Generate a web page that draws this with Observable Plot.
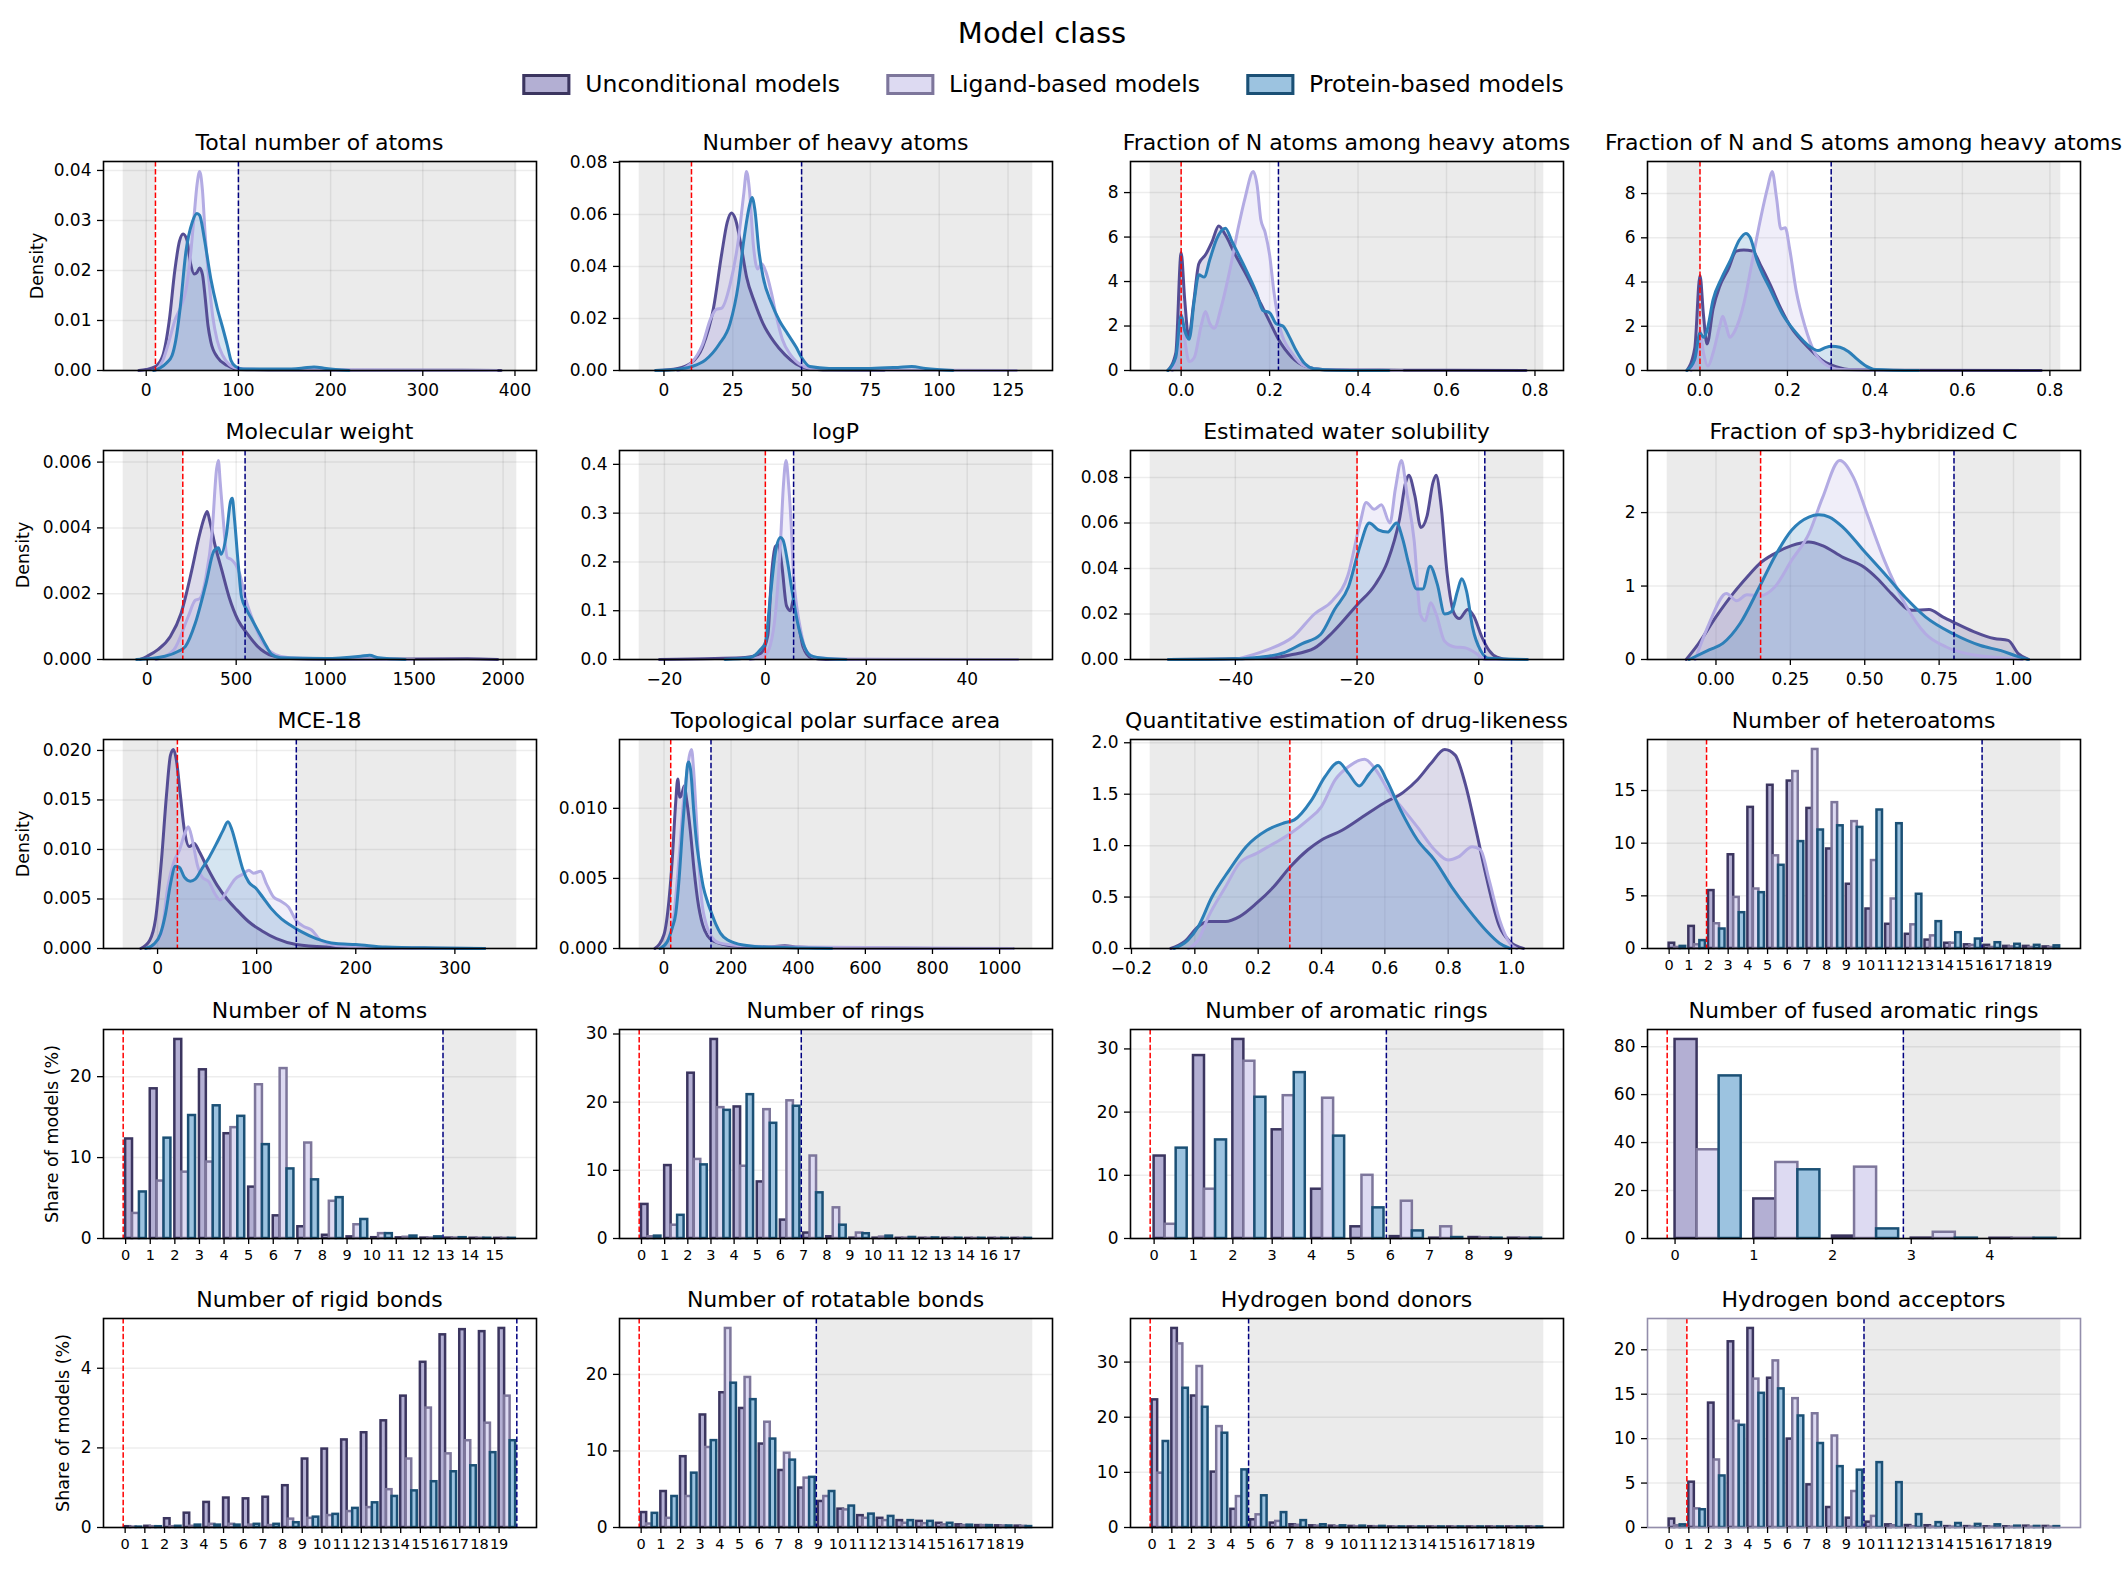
<!DOCTYPE html>
<html><head><meta charset="utf-8">
<script src="https://cdn.jsdelivr.net/npm/d3@7"></script>
<script src="https://cdn.jsdelivr.net/npm/@observablehq/plot@0.6"></script>
<style>
body{margin:0;background:#fff;font-family:"DejaVu Sans",sans-serif;}
#fig{position:relative;width:2127px;height:1569px;overflow:hidden;background:#fff;color:#000;}
.abs{position:absolute;white-space:nowrap;}
.ptitle{font-size:22px;line-height:28px;transform:translateX(-50%);}
.ylab{font-size:17.5px;transform:translate(-50%,-50%) rotate(-90deg);}
#legend{display:flex;align-items:center;font-size:23.5px;transform:translate(-50%,-50%);}
.item{display:flex;align-items:center;margin:0 23px;}
.patch{width:48px;height:21px;box-sizing:border-box;border:3px solid;margin-right:15px;}
</style></head><body><div id="fig"></div>
<script>
// ---------------- series / colours ----------------
const seriesNames = ["Unconditional models", "Ligand-based models", "Protein-based models"];
const lineColors = ["#554d94", "#b3abe3", "#2c7fb8"];
const barFills = ["#b3afd3", "#dddaf2", "#9cc3e0"];
const barEdges = ["#3b355f", "#7d769b", "#1b5075"];

// ---------------- KDE curves: [x, density] ----------------
const totalAtomsUncond = [[-8,0],[0,0.0002],[10,0.0008],[18,0.003],[25,0.010],[31,0.02],[36,0.0258],[40,0.0273],[44,0.0262],[48,0.0215],[52,0.0193],[55,0.0196],[58,0.0205],[61,0.0192],[64,0.0145],[67,0.009],[70,0.0058],[77,0.0027],[88,0.001],[100,0.0002],[150,0.0001],[300,0.00005],[385,0]];
const totalAtomsLigand = [[10,0],[18,0.002],[25,0.006],[31,0.01],[37,0.0125],[43,0.016],[48,0.023],[52,0.031],[55,0.037],[58,0.0398],[61,0.036],[64,0.027],[68,0.018],[72,0.011],[77,0.006],[83,0.003],[90,0.0012],[100,0.0004],[130,0.0002],[250,0.0001],[380,0]];
const totalAtomsProtein = [[8,0],[15,0.0005],[22,0.0015],[28,0.003],[32,0.006],[37,0.0128],[43,0.0237],[50,0.0297],[55,0.0314],[58,0.031],[63,0.0264],[70,0.0184],[77,0.0125],[83,0.0085],[88,0.005],[92,0.002],[97,0.0008],[105,0.0003],[150,0.0003],[170,0.0005],[182,0.0007],[195,0.0004],[220,0]];

const heavyAtomsUncond = [[-3,0],[5,0.0008],[10,0.003],[14,0.009],[18,0.024],[21,0.045],[23,0.057],[24.5,0.0605],[26,0.058],[28,0.048],[30,0.036],[33,0.026],[36,0.018],[40,0.011],[44,0.006],[48,0.0025],[52,0.0008],[60,0.0002],[80,0]];
const heavyAtomsLigand = [[5,0],[10,0.003],[14,0.01],[17,0.02],[19,0.0235],[21,0.024],[24,0.033],[27,0.05],[29,0.068],[30,0.0765],[31,0.07],[32.5,0.048],[34,0.039],[35.5,0.041],[37,0.038],[39,0.03],[41,0.02],[43,0.012],[46,0.006],[50,0.002],[55,0.0005],[80,0.0002],[128,0]];
const heavyAtomsProtein = [[-3,0],[5,0.0005],[10,0.0015],[15,0.004],[20,0.01],[24,0.018],[27,0.033],[29,0.05],[31,0.063],[32,0.0665],[33,0.062],[34.5,0.046],[36,0.036],[39,0.026],[42,0.019],[45,0.014],[48,0.009],[50,0.005],[53,0.0015],[60,0.0008],[75,0.0008],[85,0.0012],[90,0.0015],[95,0.0008],[105,0]];

const fracNUncond = [[-0.03,0],[-0.012,0.8],[0.0,5.3],[0.008,3.2],[0.017,1.5],[0.028,3.0],[0.04,4.8],[0.055,5.2],[0.07,5.8],[0.085,6.5],[0.1,6.1],[0.12,5.3],[0.15,4.2],[0.18,3.0],[0.2,2.2],[0.22,1.4],[0.25,0.6],[0.28,0.2],[0.32,0.05],[0.45,0.02],[0.6,0.01],[0.78,0]];
const fracNLigand = [[-0.02,0],[-0.006,1.2],[0.0,2.5],[0.008,1.4],[0.018,0.4],[0.03,0.6],[0.045,2.0],[0.055,2.65],[0.065,2.1],[0.075,1.9],[0.09,2.8],[0.11,4.5],[0.13,6.5],[0.145,7.8],[0.163,8.95],[0.172,8.3],[0.18,6.8],[0.19,6.2],[0.2,5.2],[0.21,3.5],[0.225,1.8],[0.25,0.8],[0.28,0.2],[0.33,0.02],[0.5,0]];
const fracNProtein = [[-0.03,0],[-0.012,0.6],[0.0,2.5],[0.008,1.8],[0.018,1.4],[0.03,3.2],[0.04,4.3],[0.052,4.2],[0.065,5.0],[0.08,5.9],[0.1,6.4],[0.115,5.8],[0.14,4.8],[0.17,3.5],[0.185,2.7],[0.2,2.6],[0.215,2.1],[0.23,2.0],[0.245,1.5],[0.26,0.9],[0.28,0.3],[0.3,0.08],[0.35,0.01],[0.47,0]];

const fracNSUncond = [[-0.03,0],[-0.012,1.0],[0.0,4.3],[0.008,2.5],[0.016,1.2],[0.03,2.8],[0.045,3.8],[0.065,4.6],[0.083,5.4],[0.1,5.45],[0.12,5.4],[0.14,4.7],[0.16,3.9],[0.185,2.8],[0.21,1.9],[0.235,1.3],[0.26,0.8],[0.28,0.45],[0.3,0.25],[0.34,0.05],[0.45,0.01],[0.78,0]];
const fracNSLigand = [[-0.02,0],[-0.006,0.8],[0.0,1.8],[0.008,0.8],[0.018,0.2],[0.03,0.8],[0.045,2.0],[0.052,2.45],[0.06,2.0],[0.068,1.5],[0.08,1.8],[0.1,3.0],[0.12,5.0],[0.14,7.0],[0.155,8.3],[0.165,9.0],[0.175,7.8],[0.185,6.4],[0.195,6.45],[0.205,5.5],[0.22,3.6],[0.24,2.0],[0.26,0.9],[0.285,0.3],[0.32,0.05],[0.5,0]];
const fracNSProtein = [[-0.03,0],[-0.012,0.5],[0.0,1.7],[0.008,1.5],[0.016,1.8],[0.03,3.2],[0.05,4.2],[0.07,5.0],[0.09,5.9],[0.105,6.2],[0.115,6.0],[0.13,5.0],[0.16,3.7],[0.19,2.5],[0.22,1.7],[0.25,1.1],[0.27,0.9],[0.285,1.02],[0.3,1.1],[0.32,1.05],[0.34,0.85],[0.36,0.5],[0.38,0.2],[0.4,0.05],[0.5,0]];

const mwUncond = [[-40,0],[0,0.0001],[60,0.0003],[130,0.0007],[190,0.0014],[250,0.0027],[290,0.0037],[320,0.0043],[337,0.0045],[352,0.0042],[380,0.0035],[420,0.0027],[460,0.0019],[510,0.0012],[560,0.0008],[620,0.0004],[700,0.00012],[800,0.00003],[1000,0.00001],[1800,0.00002],[1970,0]];
const mwLigand = [[50,0],[150,0.0003],[230,0.0013],[270,0.0018],[295,0.00185],[330,0.0025],[365,0.0039],[390,0.0058],[400,0.00605],[410,0.0054],[425,0.0044],[450,0.0031],[470,0.00305],[495,0.0029],[520,0.0026],[550,0.0019],[600,0.0011],[650,0.0005],[720,0.00015],[800,0.00005],[1000,0.00002],[1500,0]];
const mwProtein = [[-60,0],[100,0.0001],[175,0.00025],[215,0.0004],[270,0.0011],[330,0.0023],[375,0.0033],[400,0.0034],[415,0.0032],[445,0.0038],[468,0.0048],[478,0.0049],[490,0.0043],[510,0.003],[530,0.0019],[560,0.0015],[590,0.0012],[630,0.0008],[670,0.0004],[700,0.00015],[750,0.00005],[1000,0.00003],[1200,0.0001],[1250,0.00013],[1300,0.00005],[1450,0]];

const logPUncond = [[-21,0],[-10,0.002],[-4,0.004],[-1,0.012],[0.5,0.05],[1.2,0.17],[2,0.232],[2.6,0.235],[3.3,0.19],[4.2,0.11],[5,0.1],[5.6,0.125],[6,0.11],[6.8,0.06],[7.5,0.025],[9,0.004],[12,0],[20,0]];
const logPLigand = [[-3,0],[0,0.01],[1,0.03],[2,0.094],[3,0.24],[3.6,0.36],[4.1,0.408],[4.6,0.36],[5.1,0.28],[5.6,0.17],[6.2,0.11],[7,0.06],[8,0.02],[10,0.004],[15,0.001],[30,0.0005],[50,0]];
const logPProtein = [[-8,0],[-3,0.004],[-1,0.02],[0,0.035],[1,0.13],[2,0.22],[3,0.25],[3.5,0.245],[4.4,0.2],[5.3,0.14],[6.4,0.075],[7.5,0.033],[9,0.008],[12,0.002],[16,0]];

const solubilityUncond = [[-51,0],[-35,0.0005],[-31,0.002],[-27,0.005],[-24,0.012],[-20,0.024],[-17,0.033],[-15,0.043],[-13,0.062],[-12,0.078],[-11.5,0.081],[-10.5,0.072],[-9.5,0.058],[-8.5,0.063],[-7.5,0.078],[-7,0.081],[-6.2,0.068],[-5.2,0.038],[-4,0.02],[-3.2,0.018],[-1.8,0.022],[-0.8,0.019],[0.5,0.01],[1.7,0.004],[3,0.001],[5,0],[7,0]];
const solubilityLigand = [[-40,0],[-35,0.004],[-30.5,0.01],[-27,0.02],[-24,0.026],[-21.5,0.037],[-19.5,0.06],[-18.5,0.069],[-17.2,0.066],[-16,0.068],[-14.6,0.06],[-13.7,0.075],[-12.7,0.0875],[-11.8,0.073],[-10.6,0.052],[-9.6,0.02],[-8.8,0.017],[-7.9,0.025],[-7,0.02],[-5.6,0.008],[-3.9,0.0055],[-2.3,0.0052],[-0.6,0.003],[1.1,0],[8,0]];
const solubilityProtein = [[-51,0],[-40,0.0003],[-36,0.001],[-32,0.003],[-29,0.007],[-26,0.011],[-23.7,0.022],[-21.4,0.032],[-19.5,0.05],[-18,0.06],[-16.5,0.057],[-15,0.056],[-13.5,0.06],[-12.5,0.053],[-11.5,0.042],[-10.2,0.031],[-9.2,0.031],[-8,0.041],[-6.8,0.033],[-5.6,0.02],[-4.5,0.021],[-3.5,0.03],[-2.8,0.0355],[-2,0.03],[-1,0.014],[0.3,0.004],[1.7,0.0005],[8,0]];

const sp3Uncond = [[-0.1,0],[-0.058,0.22],[0.0,0.58],[0.058,0.9],[0.104,1.12],[0.145,1.3],[0.196,1.44],[0.254,1.55],[0.312,1.6],[0.358,1.55],[0.427,1.39],[0.497,1.26],[0.543,1.1],[0.589,0.9],[0.658,0.67],[0.716,0.68],[0.762,0.58],[0.797,0.51],[0.866,0.38],[0.935,0.285],[0.982,0.26],[1.016,0.08],[1.05,0]];
const sp3Ligand = [[-0.07,0],[-0.023,0.49],[0.035,0.9],[0.069,0.8],[0.104,0.88],[0.15,0.87],[0.196,0.98],[0.254,1.35],[0.312,1.71],[0.358,2.2],[0.416,2.71],[0.462,2.48],[0.508,1.98],[0.566,1.35],[0.635,0.76],[0.704,0.35],[0.774,0.17],[0.843,0.08],[0.935,0.03],[1.03,0]];
const sp3Protein = [[-0.09,0],[-0.023,0.13],[0.023,0.22],[0.081,0.49],[0.145,0.98],[0.196,1.39],[0.254,1.76],[0.312,1.94],[0.346,1.97],[0.381,1.94],[0.427,1.8],[0.497,1.48],[0.566,1.17],[0.635,0.85],[0.704,0.58],[0.797,0.35],[0.889,0.19],[0.958,0.12],[1.016,0.04],[1.05,0]];

const mce18Uncond = [[-17,0],[-8,0.0008],[-2,0.003],[4,0.009],[9,0.0155],[13,0.0195],[16,0.0201],[19,0.019],[23,0.0155],[27,0.012],[32,0.0103],[37,0.0106],[42,0.0098],[50,0.0082],[60,0.0064],[70,0.005],[80,0.0039],[92,0.0027],[105,0.0018],[120,0.001],[140,0.0004],[170,0.00015],[220,0.00005],[330,0]];
const mce18Ligand = [[-8,0],[0,0.0008],[4,0.0015],[10,0.006],[17,0.0089],[22,0.0099],[27,0.0115],[31,0.0123],[35,0.011],[40,0.0085],[45,0.0072],[52,0.0067],[58,0.0055],[63,0.0049],[70,0.0058],[78,0.007],[86,0.0075],[92,0.0079],[97,0.0076],[104,0.0078],[110,0.0065],[117,0.0052],[124,0.0048],[132,0.0042],[140,0.0028],[148,0.0022],[155,0.0019],[165,0.0008],[180,0.0003],[220,0.0001],[300,0]];
const mce18Protein = [[-12,0],[-3,0.0005],[3,0.0015],[8,0.0035],[13,0.0065],[18,0.0083],[22,0.0082],[27,0.0072],[33,0.0068],[38,0.007],[45,0.0081],[52,0.0092],[60,0.0107],[66,0.0119],[71,0.0128],[75,0.012],[80,0.0102],[86,0.008],[92,0.0067],[99,0.0061],[106,0.0052],[115,0.004],[125,0.003],[135,0.0023],[145,0.0017],[160,0.001],[180,0.0005],[200,0.0004],[230,0.00015],[280,0.00005],[330,0]];

const tpsaUncond = [[-27,0],[0,0.001],[15,0.0035],[25,0.0065],[35,0.0105],[41,0.0121],[47,0.0108],[53,0.011],[60,0.0116],[68,0.0105],[78,0.0085],[90,0.0055],[100,0.0035],[115,0.0017],[130,0.0009],[150,0.0005],[200,0.0002],[300,0.0001],[360,0.0002],[400,0.0001],[500,0.00003],[1040,0]];
const tpsaLigand = [[-8,0],[15,0.0008],[30,0.0025],[45,0.0065],[58,0.0105],[68,0.0125],[76,0.0138],[82,0.0142],[88,0.0128],[96,0.0095],[104,0.006],[112,0.0035],[125,0.0018],[140,0.0009],[165,0.0004],[230,0.0002],[400,0.0001],[1040,0]];
const tpsaProtein = [[-12,0],[10,0.0005],[25,0.0015],[35,0.0025],[45,0.005],[55,0.0085],[63,0.011],[70,0.0131],[74,0.0133],[80,0.0126],[88,0.01],[96,0.0078],[106,0.006],[117,0.0044],[130,0.0033],[142,0.0025],[155,0.0017],[168,0.0011],[190,0.0006],[210,0.0004],[270,0.00015],[380,0.00005],[500,0]];

const qedUncond = [[-0.076,0],[-0.032,0.068],[0.011,0.214],[0.043,0.262],[0.097,0.262],[0.141,0.31],[0.195,0.44],[0.249,0.6],[0.303,0.8],[0.357,0.96],[0.4,1.055],[0.465,1.15],[0.53,1.28],[0.595,1.41],[0.659,1.52],[0.703,1.64],[0.746,1.8],[0.789,1.935],[0.822,1.88],[0.854,1.6],[0.886,1.18],[0.918,0.73],[0.962,0.214],[0.995,0.068],[1.038,0]];
const qedLigand = [[-0.02,0],[0.011,0.084],[0.043,0.31],[0.097,0.6],[0.141,0.83],[0.195,0.925],[0.249,1.02],[0.303,1.12],[0.357,1.25],[0.4,1.38],[0.443,1.64],[0.486,1.77],[0.536,1.84],[0.573,1.73],[0.616,1.51],[0.659,1.35],[0.703,1.18],[0.757,0.96],[0.8,0.86],[0.832,0.89],[0.876,0.99],[0.902,0.96],[0.929,0.67],[0.962,0.28],[0.995,0.05],[1.016,0]];
const qedProtein = [[-0.066,0],[-0.022,0.08],[0.011,0.214],[0.054,0.5],[0.108,0.76],[0.162,0.99],[0.227,1.15],[0.281,1.22],[0.314,1.25],[0.368,1.44],[0.411,1.67],[0.454,1.81],[0.486,1.7],[0.519,1.58],[0.551,1.7],[0.578,1.78],[0.605,1.64],[0.649,1.35],[0.703,1.055],[0.757,0.86],[0.811,0.6],[0.865,0.375],[0.918,0.18],[0.962,0.052],[0.995,0]];

// ---------------- categorical tick labels ----------------
const labels0to19 = ["0","1","2","3","4","5","6","7","8","9","10","11","12","13","14","15","16","17","18","19"];
const labels0to15 = ["0","1","2","3","4","5","6","7","8","9","10","11","12","13","14","15"];
const ringLabels = ["0","1","2","3","4","5","6","7","8","9","10","11","12","13","14","16","17"];
const labels0to9 = ["0","1","2","3","4","5","6","7","8","9"];
const labels0to4 = ["0","1","2","3","4"];

// ---------------- bar shares (% of models) ----------------
const heteroUncond = [0.5,2.1,5.5,8.9,13.4,15.5,15.9,13.3,9.45,6.1,3.75,2.3,1.35,0.8,0.5,0.35,0.3,0.2,0.2,0.15];
const heteroLigand = [0.1,0.35,2.35,4.85,5.65,8.8,16.8,18.9,13.85,12.05,8.35,4.7,2.25,1.2,0.5,0.3,0.1,0.15,0.1,0.1];
const heteroProtein = [0.2,0.75,1.85,3.4,5.3,7.9,10.15,11.25,11.65,11.5,13.15,11.85,5.15,2.55,1.5,0.9,0.55,0.4,0.3,0.25];

const nAtomsUncond = [12.3,18.5,24.6,20.85,12.95,6.35,2.8,1.45,0.4,0.2,0.1,0.08,0.05,0.05,0.03,0.02];
const nAtomsLigand = [3.1,7.1,8.2,9.45,13.7,19.0,21.0,11.8,4.6,1.7,0.6,0.15,0.05,0.05,0.03,0.02];
const nAtomsProtein = [5.75,12.4,15.2,16.4,15.1,11.6,8.6,7.25,5.05,2.35,0.6,0.3,0.2,0.1,0.03,0.02];

const ringsUncond = [5.0,10.7,24.25,29.2,19.3,8.3,2.7,0.8,0.25,0.05,0.05,0.03,0.03,0.03,0.02,0.02,0.02];
const ringsLigand = [0.25,1.95,11.6,19.2,10.6,18.9,20.2,12.1,4.5,0.8,0.2,0.05,0.04,0.03,0.02,0.02,0.02];
const ringsProtein = [0.35,3.4,10.8,18.8,21.1,16.9,19.4,6.7,1.95,0.7,0.35,0.15,0.08,0.04,0.03,0.02,0.02];

const aromUncond = [13.05,28.95,31.5,17.2,7.8,1.85,0.3,0.05,0.15,0.05];
const aromLigand = [2.25,7.8,28.05,22.6,22.2,10.0,5.9,1.85,0.1,0.05];
const aromProtein = [14.3,15.6,22.35,26.25,16.2,4.85,1.2,0.15,0.05,0.05];

const fusedUncond = [83.0,16.5,1.0,0.15,0.1];
const fusedLigand = [37.0,31.7,29.75,2.6,0.1];
const fusedProtein = [67.8,28.65,4.0,0.15,0.1];

const rigidUncond = [0.02,0.03,0.22,0.36,0.63,0.74,0.72,0.76,1.05,1.72,1.97,2.2,2.38,2.68,3.3,4.15,4.84,4.97,4.92,5.0];
const rigidLigand = [0.01,0.02,0.02,0.03,0.08,0.08,0.06,0.05,0.21,0.23,0.3,0.4,0.5,0.95,1.72,3.0,1.85,2.18,2.62,3.3];
const rigidProtein = [0.01,0.02,0.03,0.06,0.06,0.06,0.08,0.08,0.12,0.26,0.33,0.48,0.62,0.78,0.92,1.15,1.4,1.55,1.88,2.18];

const rotUncond = [1.95,4.7,9.25,14.7,17.6,15.55,10.9,7.45,5.15,3.4,2.4,1.55,1.2,0.9,0.8,0.55,0.35,0.25,0.22,0.18];
const rotLigand = [0.45,1.2,4.05,10.45,26.0,19.6,13.75,9.7,6.45,4.05,2.3,1.2,0.9,0.55,0.5,0.35,0.25,0.25,0.2,0.15];
const rotProtein = [1.85,4.05,7.1,11.35,18.85,16.7,11.55,8.8,6.55,4.7,2.8,1.75,1.45,0.9,0.8,0.55,0.3,0.25,0.2,0.12];

const donorsUncond = [23.15,36.1,23.85,10.05,3.3,1.4,0.8,0.5,0.3,0.25,0.2,0.15,0.1,0.1,0.1,0.1,0.1,0.1,0.1,0.1];
const donorsLigand = [9.85,33.3,29.2,18.3,5.6,2.3,1.1,0.4,0.25,0.15,0.12,0.12,0.08,0.08,0.08,0.08,0.08,0.08,0.08,0.08];
const donorsProtein = [15.6,25.25,21.8,17.1,10.45,5.75,2.7,1.25,0.5,0.3,0.25,0.2,0.1,0.1,0.1,0.1,0.1,0.1,0.1,0.1];

const acceptorsUncond = [0.95,5.1,14.0,20.9,22.4,16.8,9.95,4.8,2.25,1.05,0.6,0.3,0.22,0.2,0.1,0.1,0.08,0.08,0.15,0.12];
const acceptorsLigand = [0.2,2.1,7.6,11.95,16.7,18.75,14.5,12.8,10.3,4.05,1.25,0.2,0.08,0.05,0.05,0.05,0.05,0.05,0.05,0.05];
const acceptorsProtein = [0.3,2.0,5.8,11.5,15.1,15.6,12.55,9.45,6.85,6.45,7.3,5.05,1.45,0.55,0.45,0.35,0.3,0.15,0.12,0.1];

// ---------------- panel settings ----------------
const panels = [
 {title:"Total number of atoms", kind:"kde", series:[totalAtomsUncond,totalAtomsLigand,totalAtomsProtein], span:[-25,402], lo:10, hi:100, xTicks:[0,100,200,300,400], xFmt:"d", yTicks:[0,0.01,0.02,0.03,0.04], yFmt:".2f"},
 {title:"Number of heavy atoms", kind:"kde", series:[heavyAtomsUncond,heavyAtomsLigand,heavyAtomsProtein], span:[-9,134], lo:10, hi:50, xTicks:[0,25,50,75,100,125], xFmt:"d", yTicks:[0,0.02,0.04,0.06,0.08], yFmt:".2f"},
 {title:"Fraction of N atoms among heavy atoms", kind:"kde", series:[fracNUncond,fracNLigand,fracNProtein], span:[-0.07,0.82], lo:0, hi:0.22, xTicks:[0,0.2,0.4,0.6,0.8], xFmt:".1f", yTicks:[0,2,4,6,8], yFmt:"d"},
 {title:"Fraction of N and S atoms among heavy atoms", kind:"kde", series:[fracNSUncond,fracNSLigand,fracNSProtein], span:[-0.075,0.825], lo:0, hi:0.3, xTicks:[0,0.2,0.4,0.6,0.8], xFmt:".1f", yTicks:[0,2,4,6,8], yFmt:"d"},
 {title:"Molecular weight", kind:"kde", series:[mwUncond,mwLigand,mwProtein], span:[-135,2077], lo:200, hi:550, xTicks:[0,500,1000,1500,2000], xFmt:"d", yTicks:[0,0.002,0.004,0.006], yFmt:".3f"},
 {title:"logP", kind:"kde", series:[logPUncond,logPLigand,logPProtein], span:[-25,53], lo:0, hi:5.6, xTicks:[-20,0,20,40], xFmt:"d", yTicks:[0,0.1,0.2,0.3,0.4], yFmt:".1f"},
 {title:"Estimated water solubility", kind:"kde", series:[solubilityUncond,solubilityLigand,solubilityProtein], span:[-54,10.7], lo:-20, hi:1, xTicks:[-40,-20,0], xFmt:"d", yTicks:[0,0.02,0.04,0.06,0.08], yFmt:".2f"},
 {title:"Fraction of sp3-hybridized C", kind:"kde", series:[sp3Uncond,sp3Ligand,sp3Protein], span:[-0.164,1.159], lo:0.15, hi:0.8, xTicks:[0,0.25,0.5,0.75,1], xFmt:".2f", yTicks:[0,1,2], yFmt:"d"},
 {title:"MCE-18", kind:"kde", series:[mce18Uncond,mce18Ligand,mce18Protein], span:[-34.7,362.5], lo:20, hi:140, xTicks:[0,100,200,300], xFmt:"d", yTicks:[0,0.005,0.01,0.015,0.02], yFmt:".3f"},
 {title:"Topological polar surface area", kind:"kde", series:[tpsaUncond,tpsaLigand,tpsaProtein], span:[-74,1099], lo:20, hi:140, xTicks:[0,200,400,600,800,1000], xFmt:"d", yTicks:[0,0.005,0.01], yFmt:".3f"},
 {title:"Quantitative estimation of drug-likeness", kind:"kde", series:[qedUncond,qedLigand,qedProtein], span:[-0.141,1.102], lo:0.3, hi:1.0, xTicks:[-0.2,0,0.2,0.4,0.6,0.8,1.0], xFmt:".1f", yTicks:[0,0.5,1,1.5,2], yFmt:".1f"},
 {title:"Number of heteroatoms", kind:"bar", labels:labels0to19, series:[heteroUncond,heteroLigand,heteroProtein], lo:2, hi:16, yTicks:[0,5,10,15]},
 {title:"Number of N atoms", kind:"bar", labels:labels0to15, series:[nAtomsUncond,nAtomsLigand,nAtomsProtein], lo:0, hi:13, yTicks:[0,10,20]},
 {title:"Number of rings", kind:"bar", labels:ringLabels, series:[ringsUncond,ringsLigand,ringsProtein], lo:0, hi:7, yTicks:[0,10,20,30]},
 {title:"Number of aromatic rings", kind:"bar", labels:labels0to9, series:[aromUncond,aromLigand,aromProtein], lo:0, hi:6, yTicks:[0,10,20,30]},
 {title:"Number of fused aromatic rings", kind:"bar", labels:labels0to4, series:[fusedUncond,fusedLigand,fusedProtein], lo:0, hi:3, yTicks:[0,20,40,60,80]},
 {title:"Number of rigid bonds", kind:"bar", labels:labels0to19, series:[rigidUncond,rigidLigand,rigidProtein], lo:0, hi:20, yTicks:[0,2,4]},
 {title:"Number of rotatable bonds", kind:"bar", labels:labels0to19, series:[rotUncond,rotLigand,rotProtein], lo:0, hi:9, yTicks:[0,10,20]},
 {title:"Hydrogen bond donors", kind:"bar", labels:labels0to19, series:[donorsUncond,donorsLigand,donorsProtein], lo:0, hi:5, yTicks:[0,10,20,30]},
 {title:"Hydrogen bond acceptors", kind:"bar", labels:labels0to19, series:[acceptorsUncond,acceptorsLigand,acceptorsProtein], lo:1, hi:10, yTicks:[0,5,10,15,20], frameColor:"#938eab"}
];
const rowYLabels = ["Density","Density","Density","Share of models (%)","Share of models (%)"];

// ---------------- layout ----------------
const colLeft = [103, 619, 1130, 1647];
const rowTop = [161, 450, 739, 1029, 1318];
const AW = 433, AH = 209;
const ML = 110, MR = 14, MT = 12, MB = 50;
const yLabelX = [37, 23, 23, 52, 63];
const GRAY = "#ebebeb";

const fig = document.getElementById("fig");
function addDiv(cls, css, html) {
  const d = document.createElement("div");
  d.className = "abs " + cls;
  Object.assign(d.style, css);
  d.innerHTML = html;
  fig.appendChild(d);
  return d;
}

function grids(yTicks, xTicks) {
  const m = [];
  if (xTicks) m.push(Plot.gridX(xTicks, {stroke: "#000", strokeOpacity: 0.07, strokeWidth: 1.5}));
  m.push(Plot.gridY(yTicks, {stroke: "#000", strokeOpacity: 0.07, strokeWidth: 1.5}));
  return m;
}

function kdePanel(p) {
  const [g0, g1] = p.span;
  const pad = 0.05 * (g1 - g0);
  const ymax = 1.05 * d3.max(p.series.flat(), d => d[1]);
  const grays = [[g0, p.lo], [p.hi, g1]].filter(d => d[1] > d[0]);
  const marks = [
    Plot.rect(grays, {x1: d => d[0], x2: d => d[1], y1: () => 0, y2: () => ymax, fill: GRAY}),
    ...grids(p.yTicks, p.xTicks)
  ];
  p.series.forEach((pts, k) => {
    marks.push(Plot.areaY(pts, {x: d => d[0], y: d => d[1], fill: lineColors[k], fillOpacity: 0.2, curve: "monotone-x"}));
  });
  p.series.forEach((pts, k) => {
    marks.push(Plot.line(pts, {x: d => d[0], y: d => d[1], stroke: lineColors[k], strokeWidth: 3, curve: "monotone-x", strokeLinejoin: "round"}));
  });
  marks.push(Plot.ruleX([p.lo], {stroke: "#ff0000", strokeWidth: 1.5, strokeDasharray: "5.5,2.4"}));
  marks.push(Plot.ruleX([p.hi], {stroke: "#000080", strokeWidth: 1.5, strokeDasharray: "5.5,2.4"}));
  marks.push(Plot.frame({stroke: p.frameColor || "#000", strokeWidth: 1.6}));
  marks.push(Plot.axisX(p.xTicks, {tickFormat: d3.format(p.xFmt), tickSize: 6, tickPadding: 7, fontSize: 17, label: null, strokeWidth: 1.3}));
  marks.push(Plot.axisY(p.yTicks, {tickFormat: d3.format(p.yFmt), tickSize: 6, tickPadding: 6, fontSize: 17, label: null, strokeWidth: 1.3}));
  return {x: {domain: [g0 - pad, g1 + pad]}, y: {domain: [0, ymax]}, marks};
}

function barPanel(p) {
  const n = p.labels.length;
  const g0 = -0.1, g1 = n - 1 + 0.9;
  const pad = 0.05 * (g1 - g0);
  const ymax = 1.05 * d3.max(p.series.flat());
  const lo = p.lo - 0.1, hi = p.hi - 0.1;
  const grays = [[g0, lo], [hi, g1]].filter(d => d[1] > d[0] + 1e-9);
  const bw = 0.28;
  const marks = [
    Plot.rect(grays, {x1: d => d[0], x2: d => d[1], y1: () => 0, y2: () => ymax, fill: GRAY}),
    ...grids(p.yTicks, null)
  ];
  p.series.forEach((vals, k) => {
    marks.push(Plot.rect(vals, {
      x1: (d, i) => i + k * bw, x2: (d, i) => i + (k + 1) * bw,
      y1: () => 0, y2: d => d,
      fill: barFills[k], stroke: barEdges[k], strokeWidth: 2.5
    }));
  });
  marks.push(Plot.ruleX([lo], {stroke: "#ff0000", strokeWidth: 1.5, strokeDasharray: "5.5,2.4"}));
  marks.push(Plot.ruleX([hi], {stroke: "#000080", strokeWidth: 1.5, strokeDasharray: "5.5,2.4"}));
  marks.push(Plot.frame({stroke: p.frameColor || "#000", strokeWidth: 1.6}));
  marks.push(Plot.axisX(d3.range(n), {tickFormat: i => p.labels[i], tickSize: 6, tickPadding: 5, fontSize: 14.5, label: null, strokeWidth: 1.3}));
  marks.push(Plot.axisY(p.yTicks, {tickFormat: d3.format("d"), tickSize: 6, tickPadding: 6, fontSize: 17, label: null, strokeWidth: 1.3}));
  return {x: {domain: [g0 - pad, g1 + pad]}, y: {domain: [0, ymax]}, marks};
}

panels.forEach((p, idx) => {
  const row = Math.floor(idx / 4), col = idx % 4;
  const spec = p.kind === "kde" ? kdePanel(p) : barPanel(p);
  const svg = Plot.plot({
    width: ML + AW + MR, height: MT + AH + MB,
    marginLeft: ML, marginRight: MR, marginTop: MT, marginBottom: MB,
    style: {fontFamily: "DejaVu Sans", fontSize: "17px", background: "transparent", overflow: "visible", maxWidth: "none", color: "#000"},
    x: spec.x, y: spec.y,
    marks: spec.marks
  });
  const holder = addDiv("", {left: (colLeft[col] - ML) + "px", top: (rowTop[row] - MT) + "px", width: (ML + AW + MR) + "px"}, "");
  holder.appendChild(svg);
  addDiv("ptitle", {left: (colLeft[col] + AW / 2) + "px", top: (rowTop[row] - 32) + "px"}, p.title);
  if (col === 0) {
    addDiv("ylab", {left: yLabelX[row] + "px", top: (rowTop[row] + AH / 2) + "px"}, rowYLabels[row]);
  }
});

// ---------------- figure title + legend ----------------
addDiv("", {left: "1042px", top: "33px", fontSize: "29px", transform: "translate(-50%,-50%)"}, "Model class");
const leg = addDiv("", {left: "1043px", top: "84px"}, "");
leg.id = "legend";
seriesNames.forEach((name, k) => {
  const it = document.createElement("div");
  it.className = "item";
  it.innerHTML = `<div class="patch" style="background:${barFills[k]};border-color:${barEdges[k]}"></div><span>${name}</span>`;
  leg.appendChild(it);
});
</script></body></html>
